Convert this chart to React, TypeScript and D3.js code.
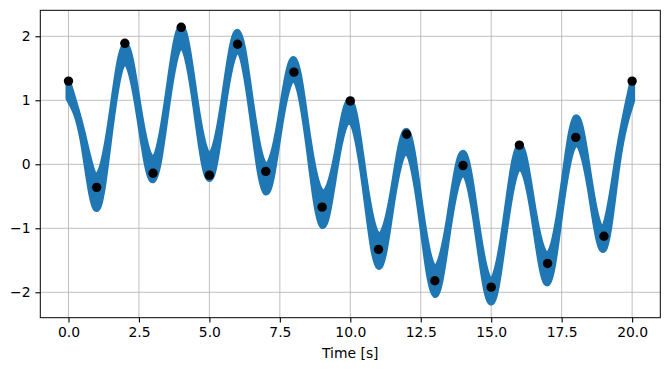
import * as React from 'react';
import * as d3 from 'd3';

// sample times of the band (every half second)
const BAND_T = [
    0, 0.5, 1, 1.5, 2, 2.5, 3, 3.5, 4, 4.5, 5, 5.5, 6, 6.5, 7, 7.5, 8, 8.5, 9, 9.5, 10,
    10.5, 11, 11.5, 12, 12.5, 13, 13.5, 14, 14.5, 15, 15.5, 16, 16.5, 17, 17.5, 18, 18.5, 19, 19.5, 20
];
// upper / lower edge of the noisy signal band
const BAND_UPPER = [
    1.27, 0.5, -0.18, 0.7, 1.86, 0.88, 0.09, 1.02, 2.14, 1.03, 0.14, 1.0, 2.07, 0.91, -0.02, 0.69, 1.64, 0.45, -0.44, 0.13, 0.99,
    -0.2, -1.11, -0.44, 0.52, -0.68, -1.61, -0.85, 0.18, -0.93, -1.82, -0.88, 0.29, -0.7, -1.41, -0.5, 0.73, -0.26, -0.99, 0.16, 1.27
];
const BAND_LOWER = [
    1.03, 0.38, -0.7, 0.58, 1.59, 0.76, -0.25, 0.9, 1.85, 0.91, -0.23, 0.88, 1.77, 0.79, -0.44, 0.57, 1.33, 0.33, -0.96, 0.01, 0.68,
    -0.32, -1.6, -0.56, 0.19, -0.8, -2.04, -0.97, -0.15, -1.05, -2.16, -1.0, -0.05, -0.82, -1.86, -0.62, 0.32, -0.38, -1.33, 0.04, 0.99
];

// the samples at whole seconds
const DOT_T = [0, 1, 2, 3, 4, 5, 6, 7, 8, 9, 10, 11, 12, 13, 14, 15, 16, 17, 18, 19, 20];
const DOT_V = [
    1.3, -0.36, 1.89, -0.14, 2.14, -0.17, 1.875, -0.11, 1.44, -0.67, 0.99,
    -1.33, 0.47, -1.82, -0.02, -1.92, 0.3, -1.55, 0.42, -1.125, 1.3
];

const X_TICKS = [0, 2.5, 5, 7.5, 10, 12.5, 15, 17.5, 20];
const Y_TICKS = [-2, -1, 0, 1, 2];

const App: React.FC = () => {
    const svgRef = React.useRef<SVGSVGElement>(null);

    React.useEffect(() => {
        const svg = d3.select(svgRef.current);
        svg.selectAll('*').remove();

        /** ******** Canvas ********* */
        const LEFT = 40.3;
        const RIGHT = 660.3;
        const TOP = 10.3;
        const BOTTOM = 317.7;
        const FONT = 'DejaVu Sans, sans-serif';
        const BLUE = '#1f77b4';

        const xScale = d3.scaleLinear().domain([-1, 21]).range([LEFT, RIGHT]);
        const yScale = d3.scaleLinear().domain([-2.397, 2.406]).range([BOTTOM, TOP]);

        /** ******** Grid ********* */
        const grid = svg.append('g');
        X_TICKS.forEach(t => {
            grid.append('line')
                .attr('x1', xScale(t)).attr('x2', xScale(t))
                .attr('y1', TOP).attr('y2', BOTTOM)
                .attr('stroke', '#b0b0b0').attr('stroke-width', 0.8);
        });
        Y_TICKS.forEach(v => {
            grid.append('line')
                .attr('x1', LEFT).attr('x2', RIGHT)
                .attr('y1', yScale(v)).attr('y2', yScale(v))
                .attr('stroke', '#b0b0b0').attr('stroke-width', 0.8);
        });

        /** ******** Band ********* */
        const idx = d3.range(BAND_T.length);
        const band = d3.area<number>()
            .x(i => xScale(BAND_T[i]))
            .y0(i => yScale(BAND_LOWER[i]))
            .y1(i => yScale(BAND_UPPER[i]))
            .curve(d3.curveNatural);
        svg.append('path')
            .datum(idx)
            .attr('d', band)
            .attr('fill', BLUE)
            .attr('stroke', BLUE)
            .attr('stroke-width', 6)
            .attr('stroke-linejoin', 'round');

        /** ******** Dots ********* */
        svg.append('g')
            .selectAll('circle')
            .data(DOT_T)
            .enter()
            .append('circle')
            .attr('cx', (t, i) => xScale(t))
            .attr('cy', (t, i) => yScale(DOT_V[i]))
            .attr('r', 4.7)
            .attr('fill', 'black');

        /** ******** Axes ********* */
        svg.append('rect')
            .attr('x', LEFT).attr('y', TOP)
            .attr('width', RIGHT - LEFT).attr('height', BOTTOM - TOP)
            .attr('fill', 'none').attr('stroke', 'black').attr('stroke-width', 1);

        const xAxis = d3.axisBottom(xScale)
            .tickValues(X_TICKS)
            .tickFormat(d3.format('.1f'))
            .tickSize(4.9)
            .tickPadding(4.9);
        const yAxis = d3.axisLeft(yScale)
            .tickValues(Y_TICKS)
            .tickFormat(d => d3.format('d')(d as number).replace('-', '\u2212'))
            .tickSize(4.9)
            .tickPadding(4.9);

        const xAxisDom = svg.append('g')
            .attr('transform', `translate(0,${BOTTOM})`)
            .call(xAxis);
        const yAxisDom = svg.append('g')
            .attr('transform', `translate(${LEFT},0)`)
            .call(yAxis);

        [xAxisDom, yAxisDom].forEach(ax => {
            ax.select('.domain').remove();
            ax.selectAll('.tick line').attr('stroke', 'black').attr('stroke-width', 1.1);
            ax.selectAll('.tick text')
                .attr('fill', 'black')
                .style('font-family', FONT)
                .style('font-size', '13.9px');
        });

        svg.append('text')
            .attr('x', (LEFT + RIGHT) / 2)
            .attr('y', 358)
            .attr('text-anchor', 'middle')
            .style('font-family', FONT)
            .style('font-size', '13.9px')
            .text('Time [s]');
    });

    return (
        <svg
            ref={svgRef}
            width={670}
            height={371}
            style={{ position: 'absolute', left: 0, top: 0, background: 'white' }}
        />
    );
};

export default App;
